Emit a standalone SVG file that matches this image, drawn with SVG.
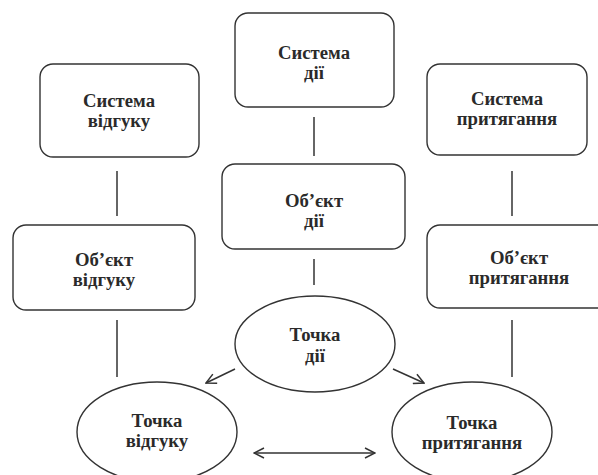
<svg xmlns="http://www.w3.org/2000/svg" width="598" height="475" viewBox="0 0 598 475">
<defs>
<style>
.box{fill:#fff;stroke:#333;stroke-width:1.4}
.t{font-family:"Liberation Serif","DejaVu Serif",serif;font-weight:bold;font-size:18.7px;fill:#2a2a2a;text-anchor:middle}
.c{stroke:#333;stroke-width:1.5;fill:none}
</style>
<marker id="ah" viewBox="0 0 12 12" refX="11" refY="6" markerWidth="12" markerHeight="12" markerUnits="userSpaceOnUse" orient="auto-start-reverse">
<path d="M1,1 L11,6 L1,11" fill="none" stroke="#333" stroke-width="1.5"/>
</marker>
</defs>
<rect width="598" height="475" fill="#fff"/>
<g id="connectors">
<line class="c" x1="314" y1="117" x2="314" y2="156"/>
<line class="c" x1="117" y1="171" x2="117" y2="216"/>
<line class="c" x1="512" y1="171" x2="512" y2="216"/>
<line class="c" x1="314" y1="259" x2="314" y2="285"/>
<line class="c" x1="117" y1="320" x2="117" y2="377"/>
<line class="c" x1="512" y1="320" x2="512" y2="377"/>
<line class="c" x1="235" y1="369" x2="206" y2="383" marker-end="url(#ah)"/>
<line class="c" x1="393" y1="369" x2="424" y2="383" marker-end="url(#ah)"/>
<line class="c" x1="254" y1="453" x2="375" y2="453" marker-start="url(#ah)" marker-end="url(#ah)"/>
</g>
<g id="sys-dii">
<rect class="box" x="235" y="13" width="159" height="94" rx="13"/>
<text class="t" x="314" y="59">Система</text>
<text class="t" x="314" y="79">дії</text>
</g>
<g id="sys-vidguku">
<rect class="box" x="40" y="64" width="159" height="93" rx="13"/>
<text class="t" x="119" y="107">Система</text>
<text class="t" x="119" y="127">відгуку</text>
</g>
<g id="sys-prytyag">
<rect class="box" x="427" y="64" width="160" height="91" rx="13"/>
<text class="t" x="507" y="105">Система</text>
<text class="t" x="507" y="125">притягання</text>
</g>
<g id="obj-dii">
<rect class="box" x="222" y="164" width="183" height="85" rx="13"/>
<text class="t" x="314" y="207">Об’єкт</text>
<text class="t" x="314" y="227">дії</text>
</g>
<g id="obj-vidguku">
<rect class="box" x="13" y="225" width="182" height="85" rx="13"/>
<text class="t" x="104" y="266">Об’єкт</text>
<text class="t" x="104" y="286">відгуку</text>
</g>
<g id="obj-prytyag">
<rect class="box" x="427" y="225" width="184" height="83" rx="13"/>
<text class="t" x="519" y="264">Об’єкт</text>
<text class="t" x="519" y="284">притягання</text>
</g>
<g id="tochka-dii">
<ellipse class="box" cx="315" cy="344" rx="80" ry="48"/>
<text class="t" x="315" y="341">Точка</text>
<text class="t" x="315" y="362">дії</text>
</g>
<g id="tochka-vidguku">
<ellipse class="box" cx="157" cy="432" rx="80" ry="50"/>
<text class="t" x="157" y="427">Точка</text>
<text class="t" x="157" y="447">відгуку</text>
</g>
<g id="tochka-prytyag">
<ellipse class="box" cx="472" cy="432" rx="80" ry="50"/>
<text class="t" x="472" y="429">Точка</text>
<text class="t" x="472" y="449">притягання</text>
</g>
</svg>
